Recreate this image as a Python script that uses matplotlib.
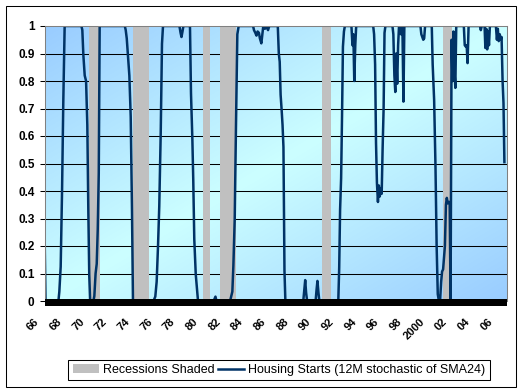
import numpy as np
import matplotlib
matplotlib.use('Agg')
import matplotlib.pyplot as plt
from matplotlib.patches import Patch, Rectangle
from matplotlib.lines import Line2D
import matplotlib.transforms as mtransforms

# ---- data (decimal years, 12M stochastic value) ----
dates = [
    1966.00, 1966.08, 1967.22, 1967.30, 1967.42, 1967.54, 1967.65, 1967.77,
    1969.25, 1969.33, 1969.42, 1969.54, 1969.66, 1969.77, 1969.86, 1969.94, 1970.02,
    1970.31, 1970.39, 1970.50, 1970.60, 1970.69, 1970.78, 1970.86,
    1973.08, 1973.16, 1973.25, 1973.36, 1973.48, 1973.60, 1973.71, 1973.80,
    1975.58, 1975.66, 1975.77, 1975.89, 1976.01, 1976.12, 1976.25, 1976.36, 1976.45,
    1977.90, 1978.00, 1978.08, 1978.17, 1978.25,
    1978.83, 1978.92, 1979.04, 1979.12, 1979.21, 1979.34, 1979.45, 1979.54,
    1980.92, 1981.00, 1981.08, 1981.17,
    1982.37, 1982.45, 1982.57, 1982.66, 1982.78, 1982.89, 1983.01, 1983.13,
    1984.40, 1984.48, 1984.60, 1984.70, 1984.80, 1984.92, 1985.00, 1985.13,
    1985.22, 1985.30, 1985.45, 1985.55, 1985.72, 1985.83,
    1986.58, 1986.67, 1986.75, 1986.83, 1986.92, 1987.00, 1987.08, 1987.17, 1987.25,
    1988.83, 1988.92, 1989.00, 1989.08, 1989.17,
    1989.92, 1990.00, 1990.08, 1990.17, 1990.25,
    1991.92, 1992.00, 1992.08, 1992.17, 1992.25, 1992.33, 1992.42, 1992.50,
    1993.08, 1993.17, 1993.25, 1993.33, 1993.42, 1993.50,
    1995.00, 1995.08, 1995.17, 1995.25, 1995.33, 1995.42, 1995.50, 1995.58,
    1995.67, 1995.75, 1995.83, 1995.92, 1996.00, 1996.08,
    1996.70, 1996.78, 1996.87, 1996.95, 1997.03, 1997.12, 1997.20, 1997.28,
    1997.37, 1997.45, 1997.53, 1997.58, 1997.67, 1997.75,
    1999.17, 1999.25, 1999.33, 1999.42, 1999.50, 1999.58,
    2000.17, 2000.25, 2000.38, 2000.50, 2000.60, 2000.70, 2000.80,
    2000.90, 2001.00, 2001.08, 2001.17, 2001.25, 2001.33, 2001.42, 2001.50,
    2001.58, 2001.67, 2001.75, 2001.83, 2001.92, 2002.00, 2002.08, 2002.17,
    2002.25, 2002.33,
    2003.00, 2003.08, 2003.17, 2003.25, 2003.33, 2003.42,
    2004.42, 2004.50, 2004.58,
    2004.83, 2004.90, 2004.98, 2005.06, 2005.14, 2005.22, 2005.30,
    2005.83, 2005.92, 2006.00, 2006.08, 2006.17, 2006.25, 2006.33, 2006.42,
    2006.50, 2006.58,
]
values = [
    0.24, 0.0, 0.0, 0.034, 0.125, 0.40, 0.725, 1.0,
    1.0, 0.985, 0.895, 0.82, 0.80, 0.64, 0.325, 0.095, 0.0,
    0.0, 0.018, 0.10, 0.135, 0.26, 0.465, 1.0,
    1.0, 0.985, 0.955, 0.89, 0.82, 0.67, 0.34, 0.0,
    0.0, 0.005, 0.016, 0.07, 0.20, 0.345, 0.615, 0.935, 1.0,
    1.0, 0.975, 0.96, 0.98, 1.0,
    1.0, 0.755, 0.59, 0.44, 0.225, 0.097, 0.045, 0.0,
    0.0, 0.008, 0.016, 0.0,
    0.0, 0.013, 0.034, 0.127, 0.30, 0.635, 0.97, 1.0,
    1.0, 0.985, 0.975, 0.965, 0.98, 0.975, 0.955, 0.937,
    0.97, 1.0, 0.99, 1.0, 0.985, 1.0,
    1.0, 0.90, 0.87, 0.75, 0.695, 0.64, 0.56, 0.11, 0.0,
    0.0, 0.04, 0.076, 0.03, 0.0,
    0.0, 0.04, 0.073, 0.03, 0.0,
    0.0, 0.12, 0.333, 0.447, 0.67, 0.925, 0.98, 1.0,
    1.0, 0.93, 0.97, 0.80, 0.93, 1.0,
    1.0, 0.97, 0.86, 0.575, 0.43, 0.36, 0.42, 0.38,
    0.41, 0.39, 0.55, 0.70, 0.975, 1.0,
    1.0, 0.97, 0.82, 0.76, 0.90, 0.79, 0.93, 1.0,
    0.985, 0.97, 1.0, 1.0, 0.725, 1.0,
    1.0, 0.97, 0.96, 0.95, 0.955, 1.0,
    1.0, 0.86, 0.73, 0.485, 0.20, 0.025, 0.0,
    0.0, 0.07, 0.107, 0.115, 0.16, 0.20, 0.35, 0.375,
    0.355, 0.36, 0.36, 0.0, 0.95, 0.80, 0.98, 0.84,
    0.775, 1.0,
    1.0, 0.93, 0.925, 0.93, 0.865, 1.0,
    1.0, 0.985, 1.0,
    1.0, 0.92, 0.99, 0.915, 0.98, 0.93, 1.0,
    1.0, 0.95, 0.99, 0.945, 0.97, 0.95, 0.96, 0.80,
    0.72, 0.505,
]
rec_start = [1969.92, 1973.83, 1980.00, 1981.50, 1990.50, 2001.17]
rec_end = [1970.92, 1975.25, 1980.58, 1982.92, 1991.25, 2001.92]
tick_years = list(range(1966, 2007, 2))
tick_labels = ['66', '68', '70', '72', '74', '76', '78', '80', '82', '84', '86',
               '88', '90', '92', '94', '96', '98', '2000', '02', '04', '06']
y_ticks = [0, 0.1, 0.2, 0.3, 0.4, 0.5, 0.6, 0.7, 0.8, 0.9, 1.0]
y_labels = ['0', '0.1', '0.2', '0.3', '0.4', '0.5', '0.6', '0.7', '0.8', '0.9', '1']
legend_labels = ['Recessions Shaded', 'Housing Starts (12M stochastic of SMA24)']

LINE_C = '#003366'
REC_C = '#C0C0C0'

plt.rcParams['font.family'] = ['Liberation Sans', 'DejaVu Sans']

W, H = 522, 389
fig = plt.figure(figsize=(W / 100, H / 100), dpi=100)
fig.patch.set_facecolor('white')

L, R, T, B = 44.6, 507.0, 26.0, 301.0
ax = fig.add_axes([L / W, (H - B) / H, (R - L) / W, (B - T) / H])

# gradient background
n = 200
u = np.linspace(0, 1, n)[None, :]
v = np.linspace(0, 1, n)[:, None]
t = (u + v) / 2
w = 1 - np.abs(2 * t - 1)
blue = np.array([153, 204, 255]) / 255
cyan = np.array([204, 255, 255]) / 255
img = blue[None, None, :] * (1 - w)[..., None] + cyan[None, None, :] * w[..., None]
ax.imshow(img, extent=[0, 1, 0, 1], transform=ax.transAxes, aspect='auto',
          origin='upper', zorder=0, interpolation='bilinear')

for yv in y_ticks[1:-1]:
    ax.axhline(yv, color='black', lw=0.75, zorder=1)

for s, e in zip(rec_start, rec_end):
    ax.axvspan(s, e, ymin=0, ymax=1, facecolor=REC_C, lw=0, zorder=2)

ax.plot(dates, values, color=LINE_C, lw=1.8, zorder=3)

ax.set_xlim(1966.0, 2006.81)
ax.set_ylim(0, 1)

for sp in ['top', 'left', 'right']:
    ax.spines[sp].set_color('#808080')
    ax.spines[sp].set_linewidth(0.75)
    ax.spines[sp].set_zorder(4)
ax.spines['bottom'].set_visible(False)

# thick category axis bar (covers the zero level)
ax.add_patch(Rectangle((L / W, (H - 306) / H), (R - L) / W, 6.6 / H,
                       transform=fig.transFigure, facecolor='black',
                       edgecolor='none', clip_on=False, zorder=5))

ax.set_xticks(tick_years)
ax.set_xticklabels(tick_labels, rotation=45, ha='right', va='center',
                   rotation_mode='anchor', fontsize=8, fontweight='bold')
ax.tick_params(axis='x', length=0, pad=13.7)
off = mtransforms.ScaledTranslation(-7 / 100, 0, fig.dpi_scale_trans)
for lbl in ax.get_xticklabels():
    lbl.set_transform(lbl.get_transform() + off)

ax.set_yticks(y_ticks)
ax.set_yticklabels(y_labels, fontsize=8.5, fontweight='bold')
ax.tick_params(axis='y', length=3.3, width=0.75, pad=3.9, color='black',
               direction='out')

handles = [Patch(facecolor=REC_C, edgecolor='none'),
           Line2D([], [], color=LINE_C, lw=1.8)]
leg = fig.legend(handles, legend_labels, loc='center',
                 bbox_to_anchor=(279 / W, (H - 370) / H), ncol=2,
                 frameon=True, fancybox=False, shadow=False,
                 edgecolor='black', facecolor='white', fontsize=9,
                 handlelength=2.1, handletextpad=0.3, columnspacing=0.3,
                 borderpad=0.35, borderaxespad=0, framealpha=1)
leg.get_frame().set_linewidth(0.75)

fig.add_artist(Rectangle((5.5 / W, (H - 386.5) / H), 510 / W, 381 / H,
                         transform=fig.transFigure, fill=False,
                         edgecolor='black', lw=0.75))

fig.savefig('out.png', dpi=100)
